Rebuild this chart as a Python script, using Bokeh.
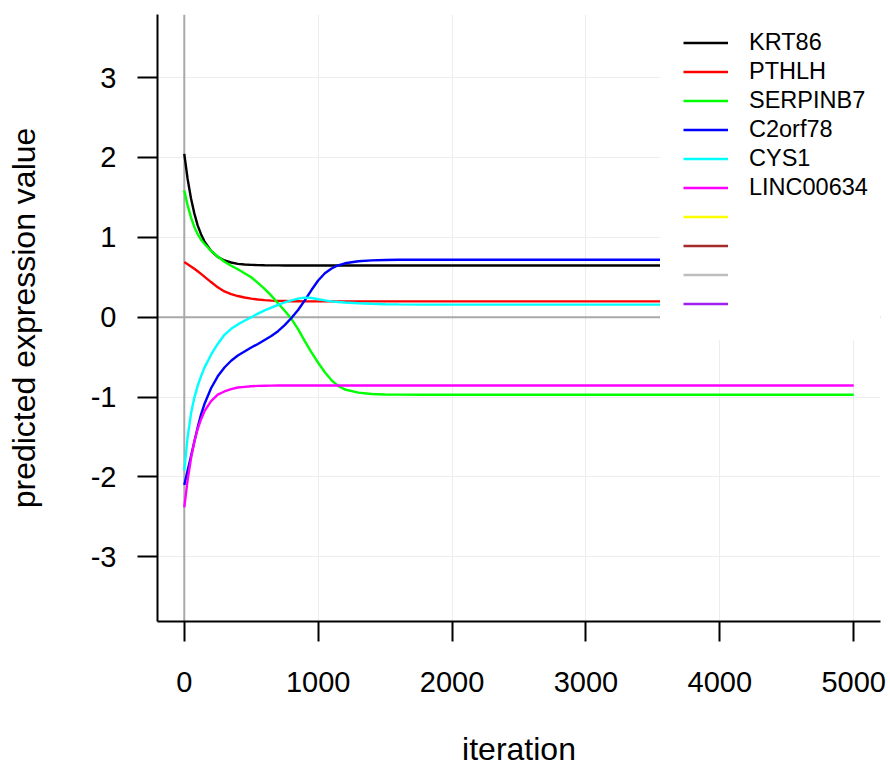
from bokeh.plotting import figure
from bokeh.models import Range1d, FixedTicker, Span, Legend, LegendItem
from bokeh.embed import file_html
from bokeh.resources import INLINE

# ---------------- data ----------------
iterations = [0, 25, 50, 75, 100, 125, 150, 200, 250, 300, 350, 400, 450, 500,
              550, 600, 650, 700, 750, 800, 850, 900, 950, 1000, 1050, 1100,
              1150, 1200, 1300, 1400, 1500, 1600, 1800, 2000, 3000, 4000, 5000]

krt86 = [2.045, 1.73, 1.49, 1.30, 1.15, 1.04, 0.95, 0.83, 0.755, 0.71, 0.685,
         0.668, 0.660, 0.655, 0.652, 0.650, 0.649, 0.649, 0.648, 0.648, 0.648,
         0.648, 0.648, 0.648, 0.648, 0.648, 0.648, 0.648, 0.648, 0.648, 0.648,
         0.648, 0.648, 0.648, 0.648, 0.648, 0.648]

pthlh = [0.69, 0.664, 0.636, 0.606, 0.575, 0.542, 0.508, 0.44, 0.374, 0.322,
         0.288, 0.265, 0.247, 0.233, 0.222, 0.214, 0.208, 0.204, 0.202, 0.200,
         0.199, 0.198, 0.198, 0.198, 0.198, 0.198, 0.198, 0.198, 0.198, 0.198,
         0.198, 0.198, 0.198, 0.198, 0.198, 0.198, 0.198]

serpinb7 = [1.585, 1.40, 1.25, 1.13, 1.04, 0.97, 0.92, 0.83, 0.76, 0.695, 0.645,
            0.60, 0.55, 0.50, 0.43, 0.355, 0.27, 0.175, 0.08, -0.02, -0.15,
            -0.30, -0.44, -0.57, -0.69, -0.79, -0.86, -0.905, -0.945, -0.962,
            -0.968, -0.970, -0.971, -0.971, -0.971, -0.971, -0.971]

c2orf78 = [-2.10, -1.92, -1.74, -1.56, -1.38, -1.22, -1.09, -0.89, -0.74, -0.63,
           -0.545, -0.48, -0.43, -0.38, -0.335, -0.285, -0.235, -0.175, -0.10,
           -0.01, 0.09, 0.21, 0.34, 0.46, 0.55, 0.61, 0.65, 0.675, 0.70, 0.712,
           0.717, 0.719, 0.72, 0.72, 0.72, 0.72, 0.72]

cys1 = [-1.92, -1.50, -1.21, -1.01, -0.86, -0.74, -0.635, -0.47, -0.335, -0.22,
        -0.145, -0.09, -0.045, 0.0, 0.045, 0.085, 0.12, 0.155, 0.185, 0.21, 0.232,
        0.245, 0.24, 0.225, 0.21, 0.198, 0.19, 0.184, 0.175, 0.168, 0.163, 0.16,
        0.158, 0.157, 0.157, 0.157, 0.157]

linc00634 = [-2.38, -2.04, -1.77, -1.56, -1.40, -1.28, -1.18, -1.05, -0.97, -0.93,
             -0.90, -0.88, -0.872, -0.865, -0.86, -0.858, -0.857, -0.856, -0.855,
             -0.855, -0.855, -0.855, -0.855, -0.855, -0.855, -0.855, -0.855,
             -0.855, -0.855, -0.855, -0.855, -0.855, -0.855, -0.855, -0.855,
             -0.855, -0.855]

series_names = ["KRT86", "PTHLH", "SERPINB7", "C2orf78", "CYS1", "LINC00634"]
series_values = [krt86, pthlh, serpinb7, c2orf78, cys1, linc00634]
series_colors = ["#000000", "#FF0000", "#00FF00", "#0000FF", "#00FFFF", "#FF00FF"]
# legend-only entries (unlabelled, not drawn in the plot)
extra_legend_colors = ["#FFFF00", "#A52A2A", "#BEBEBE", "#A020F0"]

x_ticks = [0, 1000, 2000, 3000, 4000, 5000]
x_tick_labels = ["0", "1000", "2000", "3000", "4000", "5000"]
y_ticks = [-3, -2, -1, 0, 1, 2, 3]
y_tick_labels = ["-3", "-2", "-1", "0", "1", "2", "3"]

FONT = "Liberation Sans"
LW = 2.4

# ---------------- figure ----------------
p = figure(width=888, height=769, output_backend="svg", toolbar_location=None,
           x_range=Range1d(-200, 5200), y_range=Range1d(-3.81, 3.79),
           min_border_left=157, min_border_right=8, min_border_top=14,
           min_border_bottom=148)
p.outline_line_color = None
p.background_fill_color = "white"
p.border_fill_color = "white"

p.xaxis.ticker = FixedTicker(ticks=x_ticks)
p.xaxis.major_label_overrides = dict(zip(x_ticks, x_tick_labels))
p.yaxis.ticker = FixedTicker(ticks=y_ticks)
p.yaxis.major_label_overrides = dict(zip(y_ticks, y_tick_labels))
p.xaxis.axis_label = "iteration"
p.yaxis.axis_label = "predicted expression value"

for ax in (p.xaxis[0], p.yaxis[0]):
    ax.axis_line_width = 2
    ax.axis_line_color = "black"
    ax.major_tick_line_width = 2
    ax.major_tick_line_color = "black"
    ax.major_tick_out = 20
    ax.major_tick_in = 0
    ax.minor_tick_out = 0
    ax.minor_tick_in = 0
    ax.major_label_text_font = FONT
    ax.major_label_text_font_size = "29px"
    ax.major_label_text_color = "black"
    ax.axis_label_text_font = FONT
    ax.axis_label_text_font_size = "32px"
    ax.axis_label_text_font_style = "normal"
    ax.axis_label_text_color = "black"

p.xaxis[0].major_label_standoff = 30
p.yaxis[0].major_label_standoff = 21
p.xaxis[0].axis_label_standoff = 36
p.yaxis[0].axis_label_standoff = 46

p.xgrid.grid_line_color = "#EDEDED"
p.ygrid.grid_line_color = "#EDEDED"
p.xgrid.grid_line_width = 1
p.ygrid.grid_line_width = 1

p.add_layout(Span(location=0, dimension="width", line_color="#A9A9A9",
                  line_width=2, level="underlay"))
p.add_layout(Span(location=0, dimension="height", line_color="#A9A9A9",
                  line_width=2, level="underlay"))

items = []
for name, vals, col in zip(series_names, series_values, series_colors):
    r = p.line(iterations, vals, line_color=col, line_width=LW)
    items.append(LegendItem(label=name, renderers=[r]))
for col in extra_legend_colors:
    r = p.line(iterations, linc00634, line_color=col, line_width=LW, visible=False)
    items.append(LegendItem(label=" ", renderers=[r]))

legend = Legend(items=items, location=(503, 281), margin=0, padding=22,
                spacing=2, glyph_width=45, glyph_height=27, label_height=27,
                label_width=140, label_standoff=21, label_text_font=FONT,
                label_text_font_size="23.5px", label_text_color="black",
                border_line_color="white", border_line_width=1,
                background_fill_color="white", background_fill_alpha=1.0,
                inactive_fill_alpha=0.0, click_policy="none")
p.add_layout(legend)

open("out.html", "w").write(file_html(p, INLINE))
